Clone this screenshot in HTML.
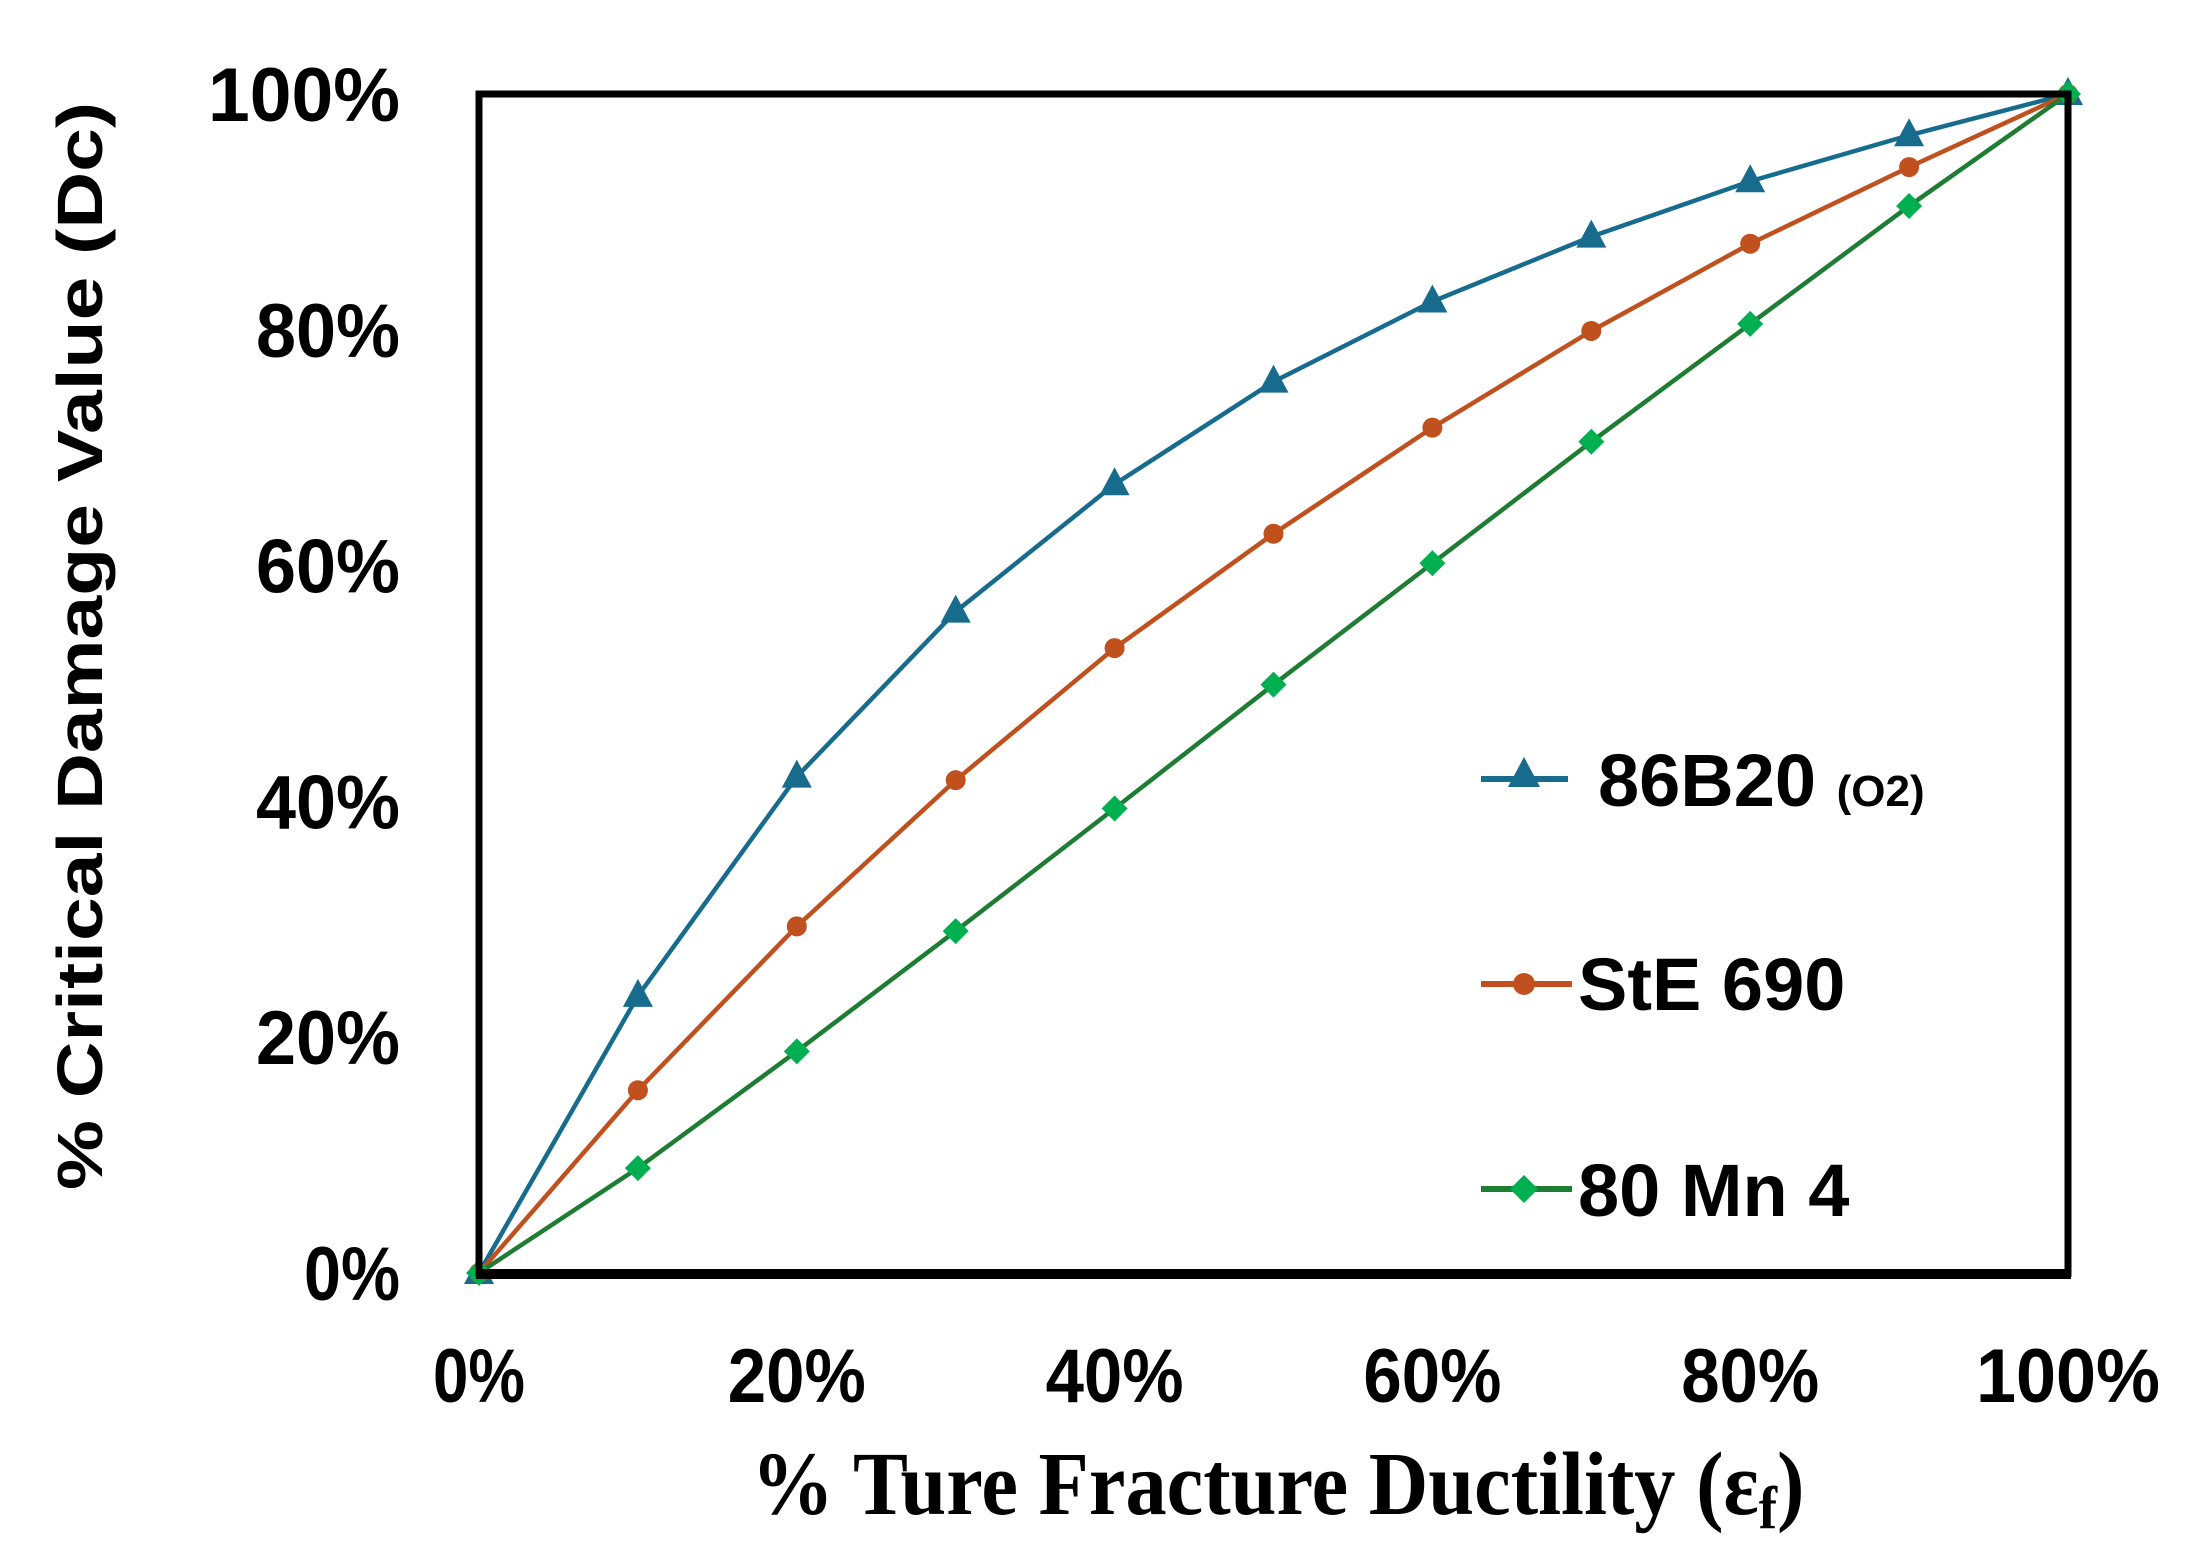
<!DOCTYPE html>
<html><head><meta charset="utf-8"><style>
html,body{margin:0;padding:0;background:#fff;}
svg{display:block;}
</style></head><body>
<svg id="chart" width="2195" height="1558" viewBox="0 0 2195 1558" xmlns="http://www.w3.org/2000/svg">
<g id="marks"></g>
<rect x="479" y="94" width="1589" height="1179" fill="none" stroke="#000" stroke-width="7"/>
<line x1="476" y1="1274" x2="2071" y2="1274" stroke="#000" stroke-width="10"/>
<g id="yticks" font-family="Liberation Sans, sans-serif" font-weight="bold" font-size="76" text-anchor="end"></g>
<g id="xticks" font-family="Liberation Sans, sans-serif" font-weight="bold" font-size="76" text-anchor="middle"></g>
<text transform="translate(102,646) rotate(-90)" text-anchor="middle" font-family="Liberation Sans, sans-serif" font-weight="bold" font-size="64" textLength="1088" lengthAdjust="spacingAndGlyphs">% Critical Damage Value  (Dc)</text>
<text x="1278" y="1514" text-anchor="middle" font-family="Liberation Serif, serif" font-weight="bold" font-size="90" textLength="1053" lengthAdjust="spacingAndGlyphs">% Ture Fracture Ductility (ε<tspan font-size="60" dy="14">f</tspan><tspan dy="-14">)</tspan></text>
<g font-family="Liberation Sans, sans-serif" font-weight="bold">
 <g>
  <line x1="1481" y1="779" x2="1568" y2="779" stroke="#176b8d" stroke-width="6"/>
  <polygon points="1524,757 1540,787 1508,787" fill="#176b8d"/>
  <text x="1598" y="806" font-size="74">86B20 <tspan font-size="44">(O2)</tspan></text>
 </g>
 <g>
  <line x1="1481" y1="984" x2="1572" y2="984" stroke="#c0501e" stroke-width="6"/>
  <circle cx="1524" cy="984" r="11" fill="#c0501e"/>
  <text x="1578" y="1010" font-size="74">StE 690</text>
 </g>
 <g>
  <line x1="1481" y1="1189" x2="1572" y2="1189" stroke="#1e7d32" stroke-width="6"/>
  <polygon points="1524,1175 1538,1189 1524,1203 1510,1189" fill="#00b050"/>
  <text x="1578" y="1216" font-size="74">80 Mn 4</text>
 </g>
</g>
</svg>
<script>
const xValues = [0,10,20,30,40,50,60,70,80,90,100];
const blueValues = [0,23.5,42.1,56.1,66.9,75.6,82.4,87.9,92.6,96.5,100];
const orangeValues = [0,15.5,29.4,41.8,53.0,62.7,71.7,79.9,87.3,93.8,100];
const greenValues = [0,8.9,18.8,29.0,39.4,49.9,60.2,70.5,80.5,90.5,100];
const tickValues = [0,20,40,60,80,100];
const tickLabels = ["0%","20%","40%","60%","80%","100%"];

const NS = "http://www.w3.org/2000/svg";
const X0=479, X1=2068, Y0=1273, Y1=94;
function sx(v){return X0+(X1-X0)*v/100;}
function sy(v){return Y0-(Y0-Y1)*v/100;}
const marks=document.getElementById('marks');
function mk(tag,attrs,parent){const e=document.createElementNS(NS,tag);for(const k in attrs)e.setAttribute(k,attrs[k]);parent.appendChild(e);return e;}

function series(vals,color,name,marker,mcolor){
  const g=mk('g',{},marks);
  
  
  const pts=vals.map((v,i)=>sx(xValues[i])+','+sy(v)).join(' ');
  const pl=mk('polyline',{points:pts,fill:'none',stroke:color,'stroke-width':4.5},g);
  
  
  vals.forEach((v,i)=>{
    const x=sx(xValues[i]), y=sy(v); let m;
    if(marker==='tri') m=mk('polygon',{points:`${x},${y-17} ${x+15},${y+11} ${x-15},${y+11}`,fill:mcolor},g);
    else if(marker==='circ') m=mk('circle',{cx:x,cy:y,r:10,fill:mcolor},g);
    else m=mk('polygon',{points:`${x},${y-13} ${x+13},${y} ${x},${y+13} ${x-13},${y}`,fill:mcolor},g);
    
    
  });
}
series(blueValues,'#176b8d','86b20','tri','#176b8d');
series(orangeValues,'#c0501e','ste690','circ','#c0501e');
series(greenValues,'#1e7d32','80mn4','dia','#00b050');

const yt=document.getElementById('yticks'), xt=document.getElementById('xticks');
tickValues.forEach((v,i)=>{
  const n=tickLabels[i].length;
  const t=mk('text',{x:400,y:sy(v)+27,textLength:n*48,lengthAdjust:'spacingAndGlyphs'},yt); t.textContent=tickLabels[i];
  
  
  const u=mk('text',{x:sx(v),y:1402,textLength:n*46,lengthAdjust:'spacingAndGlyphs'},xt); u.textContent=tickLabels[i];
  
  
});
</script>
</body></html>
